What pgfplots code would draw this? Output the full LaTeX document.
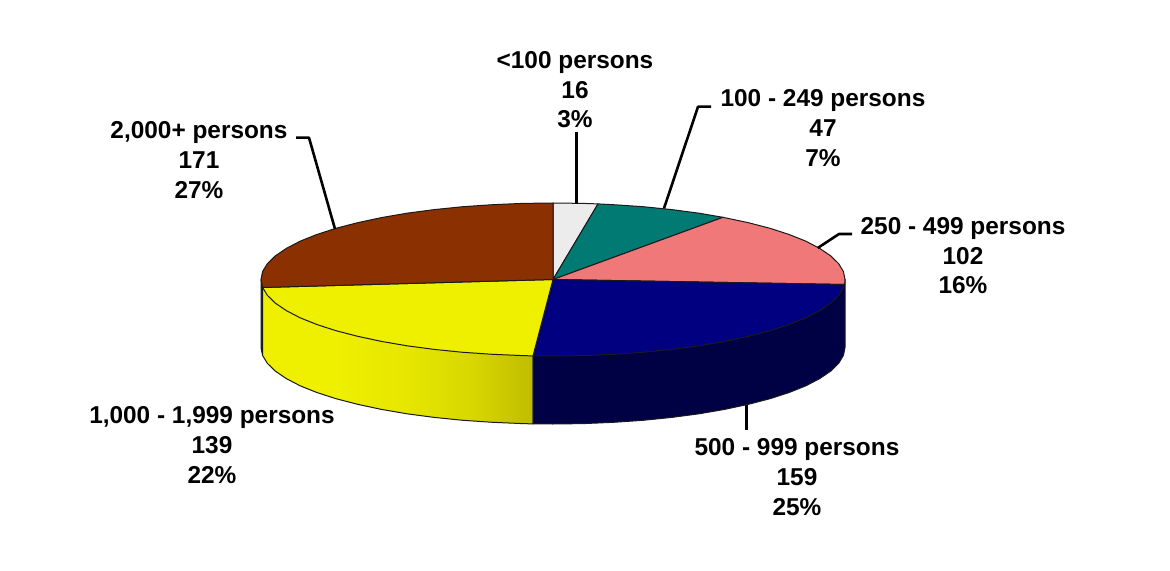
\documentclass[border=0pt]{standalone}
\usepackage{fontspec}
\setmainfont{Liberation Sans}
\usepackage{pgfplots}
\pgfplotsset{compat=1.18}

\definecolor{pieBrown}{HTML}{8B3000}
\definecolor{pieBrownDark}{HTML}{5A2000}
\definecolor{pieYellow}{HTML}{EFEF00}
\definecolor{pieYellowMid}{HTML}{E6E600}
\definecolor{pieYellowLow}{HTML}{D8D700}
\definecolor{pieYellowDark}{HTML}{BFBD00}
\definecolor{pieNavy}{HTML}{000080}
\definecolor{pieNavyDark}{HTML}{000044}
\definecolor{piePink}{HTML}{F07878}
\definecolor{pieTeal}{HTML}{007A72}
\definecolor{pieGrey}{HTML}{ECECEC}
\definecolor{edgeGrey}{HTML}{1A1A1A}

\pgfdeclarehorizontalshading{yellowwall}{100bp}{
  color(0bp)=(pieYellow); color(38bp)=(pieYellow); color(50bp)=(pieYellowMid);
  color(61bp)=(pieYellowLow); color(71.6bp)=(pieYellowDark); color(100bp)=(pieYellowDark)}

\tikzset{lab/.style={font=\fontsize{12.2}{14.8}\selectfont\bfseries, align=center, text=black, inner sep=0pt}}

\begin{document}
\begin{tikzpicture}
\useasboundingbox (0,0) rectangle (585pt,285.5pt);
\begin{axis}[
    hide axis,
    scale only axis,
    width=585pt, height=285.5pt,
    xmin=0, xmax=1170, ymin=0, ymax=571,
    y dir=reverse,
    clip=false,
  ]
  % side walls (coordinates are picture pixels)
  \addplot[draw=edgeGrey, line width=0.5pt, line join=round, fill=pieBrownDark] coordinates {
    (262.6,287.5) (262.6,355.5) (261,347.5) (261,279.5)
  } --cycle;
  \addplot[draw=edgeGrey, line width=0.5pt, line join=round, shading=yellowwall] coordinates {
    (533,355.9) (533,423.9) (522.5,423.6) (492.3,422.3) (462.8,420.3) (434.2,417.4)
    (407,413.8) (381.4,409.4) (357.6,404.3) (336,398.7) (316.8,392.5) (300.1,385.8)
    (286.3,378.6) (275.3,371.1) (267.4,363.4) (262.6,355.5) (262.6,287.5) (553,279.5)
  } --cycle;
  \addplot[draw=edgeGrey, line width=0.5pt, line join=round, fill=pieNavyDark] coordinates {
    (845,279.5) (845,347.5) (843.4,355.5) (838.6,363.4) (830.7,371.1) (819.7,378.6)
    (805.9,385.8) (789.2,392.5) (770,398.7) (748.4,404.3) (724.6,409.4) (699,413.8)
    (671.8,417.4) (643.2,420.3) (613.7,422.3) (583.5,423.6) (553,424) (533,423.9)
    (533,355.9) (553,279.5)
  } --cycle;

  % top faces
  \addplot[draw=edgeGrey, line width=0.5pt, line join=round, fill=pieGrey] coordinates {
    (553,279.5) (553,203) (583.5,203.4) (598,203.9)
  } --cycle;
  \addplot[draw=edgeGrey, line width=0.5pt, line join=round, fill=pieTeal] coordinates {
    (553,279.5) (598,203.9) (613.7,204.7) (643.2,206.7) (671.8,209.6) (699,213.2) (723,217.3)
  } --cycle;
  \addplot[draw=edgeGrey, line width=0.5pt, line join=round, fill=piePink] coordinates {
    (553,279.5) (723,217.3) (748.4,222.7) (770,228.3) (789.2,234.5) (805.9,241.2)
    (819.7,248.4) (830.7,255.9) (838.6,263.6) (843.4,271.5) (845,279.5) (844.6,284.5)
  } --cycle;
  \addplot[draw=edgeGrey, line width=0.5pt, line join=round, fill=pieNavy] coordinates {
    (553,279.5) (844.6,284.5) (843.4,287.5) (838.6,295.4) (830.7,303.1) (819.7,310.6)
    (805.9,317.8) (789.2,324.5) (770,330.7) (748.4,336.3) (724.6,341.4) (699,345.8)
    (671.8,349.4) (643.2,352.3) (613.7,354.3) (583.5,355.6) (553,356) (533,355.9)
  } --cycle;
  \addplot[draw=edgeGrey, line width=0.5pt, line join=round, fill=pieYellow] coordinates {
    (553,279.5) (533,355.9) (522.5,355.6) (492.3,354.3) (462.8,352.3) (434.2,349.4)
    (407,345.8) (381.4,341.4) (357.6,336.3) (336,330.7) (316.8,324.5) (300.1,317.8)
    (286.3,310.6) (275.3,303.1) (267.4,295.4) (262.6,287.5)
  } --cycle;
  \addplot[draw=edgeGrey, line width=0.5pt, line join=round, fill=pieBrown] coordinates {
    (553,279.5) (262.6,287.5) (261,279.5) (262.6,271.5) (267.4,263.6) (275.3,255.9)
    (286.3,248.4) (300.1,241.2) (316.8,234.5) (336,228.3) (357.6,222.7) (381.4,217.6)
    (407,213.2) (434.2,209.6) (462.8,206.7) (492.3,204.7) (522.5,203.4) (553,203)
  } --cycle;

  % leader lines
  \addplot[black, line width=1.3pt, line join=round] coordinates {(576.7,132) (576.7,204)};
  \addplot[black, line width=1.3pt, line join=round] coordinates {(711,106.7) (698,106.7) (664,208.3)};
  \addplot[black, line width=1.3pt, line join=round] coordinates {(852,234) (839,234) (817.7,248)};
  \addplot[black, line width=1.3pt, line join=round] coordinates {(746.7,405) (746.7,430)};
  \addplot[black, line width=1.3pt, line join=round] coordinates {(296,137.7) (309,137.7) (335,229)};

  % labels
  \node[lab] at (axis cs:575,90) {<100 persons\\16\\3\%};
  \node[lab] at (axis cs:823,128) {100 - 249 persons\\47\\7\%};
  \node[lab] at (axis cs:963,256) {250 - 499 persons\\102\\16\%};
  \node[lab] at (axis cs:797,477) {500 - 999 persons\\159\\25\%};
  \node[lab] at (axis cs:212,445) {1,000 - 1,999 persons\\139\\22\%};
  \node[lab] at (axis cs:199,160) {2,000+ persons\\171\\27\%};
\end{axis}
\end{tikzpicture}
\end{document}
